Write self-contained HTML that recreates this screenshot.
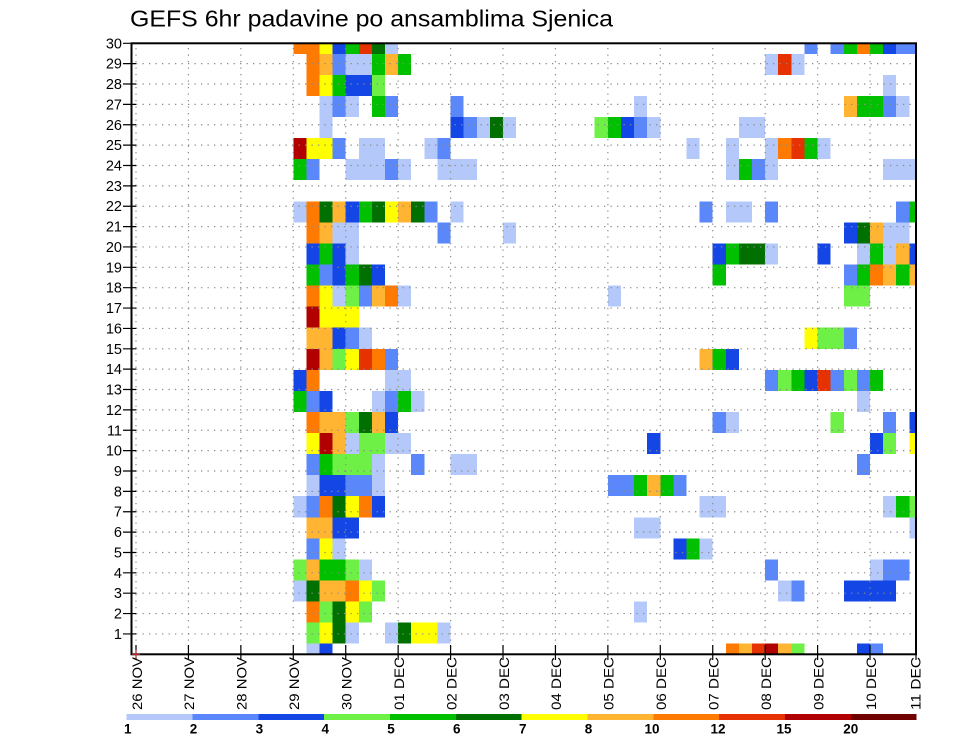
<!DOCTYPE html>
<html><head><meta charset="utf-8"><style>
html,body{margin:0;padding:0;background:#fff}
svg{display:block}
.a{fill:#b4c8fa}.b{fill:#5a87fa}.c{fill:#1446e6}.d{fill:#6ef046}.e{fill:#00c000}.f{fill:#007000}
.g{fill:#ffff00}.h{fill:#ffb432}.i{fill:#ff7a00}.j{fill:#e63200}.k{fill:#b00000}.l{fill:#700000}
text{font-family:"Liberation Sans",sans-serif;fill:#000}
</style></head><body>
<svg width="960" height="742" viewBox="0 0 960 742" xmlns="http://www.w3.org/2000/svg">
<rect x="0" y="0" width="960" height="742" fill="#fff"/>
<text x="130" y="26.7" font-size="23" textLength="483" lengthAdjust="spacingAndGlyphs">GEFS 6hr padavine po ansamblima Sjenica</text>
<defs><clipPath id="cp"><rect x="131" y="43.3" width="785" height="611"/></clipPath></defs>
<g clip-path="url(#cp)">
<g transform="translate(136,53.8) scale(13.107,21.069)" shape-rendering="crispEdges">
<!-- T0 -->
<rect x="12" y="-1" width="2" height="1" class="i"/><rect x="14" y="-1" width="1" height="1" class="g"/><rect x="15" y="-1" width="1" height="1" class="c"/><rect x="16" y="-1" width="1" height="1" class="e"/><rect x="17" y="-1" width="1" height="1" class="j"/><rect x="18" y="-1" width="1" height="1" class="f"/><rect x="19" y="-1" width="1" height="1" class="a"/><rect x="51" y="-1" width="1" height="1" class="b"/><rect x="53" y="-1" width="1" height="1" class="b"/><rect x="54" y="-1" width="1" height="1" class="e"/><rect x="55" y="-1" width="1" height="1" class="i"/><rect x="56" y="-1" width="1" height="1" class="e"/><rect x="57" y="-1" width="1" height="1" class="c"/><rect x="58" y="-1" width="2" height="1" class="b"/>
<!-- T1 -->
<rect x="13" y="0" width="1" height="1" class="i"/><rect x="14" y="0" width="1" height="1" class="h"/><rect x="15" y="0" width="1" height="1" class="b"/><rect x="16" y="0" width="2" height="1" class="a"/><rect x="18" y="0" width="1" height="1" class="e"/><rect x="19" y="0" width="1" height="1" class="h"/><rect x="20" y="0" width="1" height="1" class="e"/><rect x="48" y="0" width="1" height="1" class="a"/><rect x="49" y="0" width="1" height="1" class="j"/><rect x="50" y="0" width="1" height="1" class="a"/>
<!-- T2 -->
<rect x="13" y="1" width="1" height="1" class="i"/><rect x="14" y="1" width="1" height="1" class="g"/><rect x="15" y="1" width="1" height="1" class="e"/><rect x="16" y="1" width="2" height="1" class="c"/><rect x="18" y="1" width="1" height="1" class="d"/><rect x="57" y="1" width="1" height="1" class="a"/>
<!-- T3 -->
<rect x="14" y="2" width="1" height="1" class="a"/><rect x="15" y="2" width="1" height="1" class="b"/><rect x="16" y="2" width="1" height="1" class="a"/><rect x="18" y="2" width="1" height="1" class="e"/><rect x="19" y="2" width="1" height="1" class="b"/><rect x="24" y="2" width="1" height="1" class="b"/><rect x="38" y="2" width="1" height="1" class="a"/><rect x="54" y="2" width="1" height="1" class="h"/><rect x="55" y="2" width="2" height="1" class="e"/><rect x="57" y="2" width="1" height="1" class="b"/><rect x="58" y="2" width="1" height="1" class="a"/>
<!-- T4 -->
<rect x="14" y="3" width="1" height="1" class="a"/><rect x="24" y="3" width="1" height="1" class="c"/><rect x="25" y="3" width="1" height="1" class="b"/><rect x="26" y="3" width="1" height="1" class="a"/><rect x="27" y="3" width="1" height="1" class="f"/><rect x="28" y="3" width="1" height="1" class="a"/><rect x="35" y="3" width="1" height="1" class="d"/><rect x="36" y="3" width="1" height="1" class="e"/><rect x="37" y="3" width="1" height="1" class="c"/><rect x="38" y="3" width="1" height="1" class="b"/><rect x="39" y="3" width="1" height="1" class="a"/><rect x="46" y="3" width="2" height="1" class="a"/>
<!-- T5 -->
<rect x="12" y="4" width="1" height="1" class="k"/><rect x="13" y="4" width="2" height="1" class="g"/><rect x="15" y="4" width="1" height="1" class="b"/><rect x="17" y="4" width="2" height="1" class="a"/><rect x="22" y="4" width="1" height="1" class="a"/><rect x="23" y="4" width="1" height="1" class="b"/><rect x="42" y="4" width="1" height="1" class="a"/><rect x="45" y="4" width="1" height="1" class="a"/><rect x="48" y="4" width="1" height="1" class="a"/><rect x="49" y="4" width="1" height="1" class="i"/><rect x="50" y="4" width="1" height="1" class="j"/><rect x="51" y="4" width="1" height="1" class="e"/><rect x="52" y="4" width="1" height="1" class="a"/>
<!-- T6 -->
<rect x="12" y="5" width="1" height="1" class="e"/><rect x="13" y="5" width="1" height="1" class="b"/><rect x="16" y="5" width="3" height="1" class="a"/><rect x="19" y="5" width="1" height="1" class="b"/><rect x="20" y="5" width="1" height="1" class="a"/><rect x="23" y="5" width="3" height="1" class="a"/><rect x="45" y="5" width="1" height="1" class="a"/><rect x="46" y="5" width="1" height="1" class="e"/><rect x="47" y="5" width="1" height="1" class="b"/><rect x="48" y="5" width="1" height="1" class="a"/><rect x="57" y="5" width="3" height="1" class="a"/>
<!-- T8 -->
<rect x="12" y="7" width="1" height="1" class="a"/><rect x="13" y="7" width="1" height="1" class="i"/><rect x="14" y="7" width="1" height="1" class="f"/><rect x="15" y="7" width="1" height="1" class="h"/><rect x="16" y="7" width="1" height="1" class="c"/><rect x="17" y="7" width="1" height="1" class="e"/><rect x="18" y="7" width="1" height="1" class="f"/><rect x="19" y="7" width="1" height="1" class="g"/><rect x="20" y="7" width="1" height="1" class="h"/><rect x="21" y="7" width="1" height="1" class="f"/><rect x="22" y="7" width="1" height="1" class="b"/><rect x="24" y="7" width="1" height="1" class="a"/><rect x="43" y="7" width="1" height="1" class="b"/><rect x="45" y="7" width="2" height="1" class="a"/><rect x="48" y="7" width="1" height="1" class="b"/><rect x="58" y="7" width="1" height="1" class="b"/><rect x="59" y="7" width="1" height="1" class="e"/>
<!-- T9 -->
<rect x="13" y="8" width="1" height="1" class="i"/><rect x="14" y="8" width="1" height="1" class="h"/><rect x="15" y="8" width="2" height="1" class="a"/><rect x="23" y="8" width="1" height="1" class="b"/><rect x="28" y="8" width="1" height="1" class="a"/><rect x="54" y="8" width="1" height="1" class="c"/><rect x="55" y="8" width="1" height="1" class="f"/><rect x="56" y="8" width="1" height="1" class="h"/><rect x="57" y="8" width="2" height="1" class="a"/>
<!-- T10 -->
<rect x="13" y="9" width="1" height="1" class="c"/><rect x="14" y="9" width="1" height="1" class="e"/><rect x="15" y="9" width="1" height="1" class="c"/><rect x="16" y="9" width="1" height="1" class="a"/><rect x="44" y="9" width="1" height="1" class="c"/><rect x="45" y="9" width="1" height="1" class="e"/><rect x="46" y="9" width="2" height="1" class="f"/><rect x="48" y="9" width="1" height="1" class="a"/><rect x="52" y="9" width="1" height="1" class="c"/><rect x="55" y="9" width="1" height="1" class="a"/><rect x="56" y="9" width="1" height="1" class="e"/><rect x="57" y="9" width="1" height="1" class="a"/><rect x="58" y="9" width="1" height="1" class="h"/><rect x="59" y="9" width="1" height="1" class="c"/>
<!-- T11 -->
<rect x="13" y="10" width="1" height="1" class="e"/><rect x="14" y="10" width="1" height="1" class="b"/><rect x="15" y="10" width="1" height="1" class="c"/><rect x="16" y="10" width="1" height="1" class="e"/><rect x="17" y="10" width="1" height="1" class="f"/><rect x="18" y="10" width="1" height="1" class="c"/><rect x="44" y="10" width="1" height="1" class="e"/><rect x="54" y="10" width="1" height="1" class="b"/><rect x="55" y="10" width="1" height="1" class="e"/><rect x="56" y="10" width="1" height="1" class="i"/><rect x="57" y="10" width="1" height="1" class="h"/><rect x="58" y="10" width="1" height="1" class="e"/><rect x="59" y="10" width="1" height="1" class="h"/>
<!-- T12 -->
<rect x="13" y="11" width="1" height="1" class="i"/><rect x="14" y="11" width="1" height="1" class="g"/><rect x="15" y="11" width="1" height="1" class="a"/><rect x="16" y="11" width="1" height="1" class="d"/><rect x="17" y="11" width="1" height="1" class="b"/><rect x="18" y="11" width="1" height="1" class="h"/><rect x="19" y="11" width="1" height="1" class="i"/><rect x="20" y="11" width="1" height="1" class="a"/><rect x="36" y="11" width="1" height="1" class="a"/><rect x="54" y="11" width="2" height="1" class="d"/>
<!-- T13 -->
<rect x="13" y="12" width="1" height="1" class="k"/><rect x="14" y="12" width="3" height="1" class="g"/>
<!-- T14 -->
<rect x="13" y="13" width="2" height="1" class="h"/><rect x="15" y="13" width="1" height="1" class="c"/><rect x="16" y="13" width="1" height="1" class="b"/><rect x="17" y="13" width="1" height="1" class="a"/><rect x="51" y="13" width="1" height="1" class="g"/><rect x="52" y="13" width="2" height="1" class="d"/><rect x="54" y="13" width="1" height="1" class="b"/>
<!-- T15 -->
<rect x="13" y="14" width="1" height="1" class="k"/><rect x="14" y="14" width="1" height="1" class="h"/><rect x="15" y="14" width="1" height="1" class="d"/><rect x="16" y="14" width="1" height="1" class="g"/><rect x="17" y="14" width="1" height="1" class="j"/><rect x="18" y="14" width="1" height="1" class="i"/><rect x="19" y="14" width="1" height="1" class="b"/><rect x="43" y="14" width="1" height="1" class="h"/><rect x="44" y="14" width="1" height="1" class="e"/><rect x="45" y="14" width="1" height="1" class="c"/>
<!-- T16 -->
<rect x="12" y="15" width="1" height="1" class="c"/><rect x="13" y="15" width="1" height="1" class="i"/><rect x="19" y="15" width="2" height="1" class="a"/><rect x="48" y="15" width="1" height="1" class="b"/><rect x="49" y="15" width="1" height="1" class="d"/><rect x="50" y="15" width="1" height="1" class="e"/><rect x="51" y="15" width="1" height="1" class="c"/><rect x="52" y="15" width="1" height="1" class="j"/><rect x="53" y="15" width="1" height="1" class="b"/><rect x="54" y="15" width="1" height="1" class="d"/><rect x="55" y="15" width="1" height="1" class="b"/><rect x="56" y="15" width="1" height="1" class="e"/>
<!-- T17 -->
<rect x="12" y="16" width="1" height="1" class="e"/><rect x="13" y="16" width="1" height="1" class="b"/><rect x="14" y="16" width="1" height="1" class="c"/><rect x="18" y="16" width="1" height="1" class="a"/><rect x="19" y="16" width="1" height="1" class="b"/><rect x="20" y="16" width="1" height="1" class="e"/><rect x="21" y="16" width="1" height="1" class="a"/><rect x="55" y="16" width="1" height="1" class="a"/>
<!-- T18 -->
<rect x="13" y="17" width="1" height="1" class="i"/><rect x="14" y="17" width="2" height="1" class="h"/><rect x="16" y="17" width="1" height="1" class="d"/><rect x="17" y="17" width="1" height="1" class="f"/><rect x="18" y="17" width="1" height="1" class="h"/><rect x="19" y="17" width="1" height="1" class="c"/><rect x="44" y="17" width="1" height="1" class="b"/><rect x="45" y="17" width="1" height="1" class="a"/><rect x="53" y="17" width="1" height="1" class="d"/><rect x="57" y="17" width="1" height="1" class="b"/><rect x="59" y="17" width="1" height="1" class="c"/>
<!-- T19 -->
<rect x="13" y="18" width="1" height="1" class="g"/><rect x="14" y="18" width="1" height="1" class="k"/><rect x="15" y="18" width="1" height="1" class="h"/><rect x="16" y="18" width="1" height="1" class="a"/><rect x="17" y="18" width="2" height="1" class="d"/><rect x="19" y="18" width="2" height="1" class="a"/><rect x="39" y="18" width="1" height="1" class="c"/><rect x="56" y="18" width="1" height="1" class="c"/><rect x="57" y="18" width="1" height="1" class="d"/><rect x="59" y="18" width="1" height="1" class="g"/>
<!-- T20 -->
<rect x="13" y="19" width="1" height="1" class="b"/><rect x="14" y="19" width="1" height="1" class="e"/><rect x="15" y="19" width="3" height="1" class="d"/><rect x="18" y="19" width="1" height="1" class="a"/><rect x="21" y="19" width="1" height="1" class="b"/><rect x="24" y="19" width="2" height="1" class="a"/><rect x="55" y="19" width="1" height="1" class="b"/>
<!-- T21 -->
<rect x="13" y="20" width="1" height="1" class="a"/><rect x="14" y="20" width="2" height="1" class="c"/><rect x="16" y="20" width="2" height="1" class="b"/><rect x="18" y="20" width="1" height="1" class="a"/><rect x="36" y="20" width="2" height="1" class="b"/><rect x="38" y="20" width="1" height="1" class="e"/><rect x="39" y="20" width="1" height="1" class="h"/><rect x="40" y="20" width="1" height="1" class="e"/><rect x="41" y="20" width="1" height="1" class="b"/>
<!-- T22 -->
<rect x="12" y="21" width="1" height="1" class="a"/><rect x="13" y="21" width="1" height="1" class="b"/><rect x="14" y="21" width="1" height="1" class="i"/><rect x="15" y="21" width="1" height="1" class="f"/><rect x="16" y="21" width="1" height="1" class="g"/><rect x="17" y="21" width="1" height="1" class="i"/><rect x="18" y="21" width="1" height="1" class="c"/><rect x="43" y="21" width="2" height="1" class="a"/><rect x="57" y="21" width="1" height="1" class="a"/><rect x="58" y="21" width="1" height="1" class="e"/><rect x="59" y="21" width="1" height="1" class="d"/>
<!-- T23 -->
<rect x="13" y="22" width="2" height="1" class="h"/><rect x="15" y="22" width="2" height="1" class="c"/><rect x="38" y="22" width="2" height="1" class="a"/><rect x="59" y="22" width="1" height="1" class="a"/>
<!-- T24 -->
<rect x="13" y="23" width="1" height="1" class="b"/><rect x="14" y="23" width="1" height="1" class="g"/><rect x="15" y="23" width="1" height="1" class="a"/><rect x="41" y="23" width="1" height="1" class="c"/><rect x="42" y="23" width="1" height="1" class="e"/><rect x="43" y="23" width="1" height="1" class="a"/>
<!-- T25 -->
<rect x="12" y="24" width="1" height="1" class="d"/><rect x="13" y="24" width="1" height="1" class="h"/><rect x="14" y="24" width="2" height="1" class="e"/><rect x="16" y="24" width="1" height="1" class="d"/><rect x="17" y="24" width="1" height="1" class="a"/><rect x="48" y="24" width="1" height="1" class="b"/><rect x="56" y="24" width="1" height="1" class="a"/><rect x="57" y="24" width="2" height="1" class="b"/>
<!-- T26 -->
<rect x="12" y="25" width="1" height="1" class="a"/><rect x="13" y="25" width="1" height="1" class="f"/><rect x="14" y="25" width="2" height="1" class="h"/><rect x="16" y="25" width="1" height="1" class="i"/><rect x="17" y="25" width="1" height="1" class="g"/><rect x="18" y="25" width="1" height="1" class="d"/><rect x="49" y="25" width="1" height="1" class="a"/><rect x="50" y="25" width="1" height="1" class="b"/><rect x="54" y="25" width="4" height="1" class="c"/>
<!-- T27 -->
<rect x="13" y="26" width="1" height="1" class="i"/><rect x="14" y="26" width="1" height="1" class="d"/><rect x="15" y="26" width="1" height="1" class="f"/><rect x="16" y="26" width="1" height="1" class="g"/><rect x="17" y="26" width="1" height="1" class="d"/><rect x="38" y="26" width="1" height="1" class="a"/>
<!-- T28 -->
<rect x="13" y="27" width="1" height="1" class="d"/><rect x="14" y="27" width="1" height="1" class="g"/><rect x="15" y="27" width="1" height="1" class="f"/><rect x="16" y="27" width="1" height="1" class="a"/><rect x="19" y="27" width="1" height="1" class="a"/><rect x="20" y="27" width="1" height="1" class="f"/><rect x="21" y="27" width="2" height="1" class="g"/><rect x="23" y="27" width="1" height="1" class="a"/>
<!-- T29 -->
<rect x="13" y="28" width="1" height="1" class="a"/><rect x="14" y="28" width="1" height="1" class="c"/><rect x="45" y="28" width="1" height="1" class="i"/><rect x="46" y="28" width="1" height="1" class="h"/><rect x="47" y="28" width="1" height="1" class="j"/><rect x="48" y="28" width="1" height="1" class="k"/><rect x="49" y="28" width="1" height="1" class="h"/><rect x="50" y="28" width="1" height="1" class="d"/><rect x="55" y="28" width="1" height="1" class="c"/><rect x="56" y="28" width="1" height="1" class="b"/>
</g>
<!-- dotted grid -->
<path fill="none" stroke="#8a8a8a" stroke-width="1.2" stroke-dasharray="1.3 5.2" d="M136 633.93H916M136 613.57H916M136 593.2H916M136 572.83H916M136 552.47H916M136 532.1H916M136 511.73H916M136 491.36H916M136 471H916M136 450.63H916M136 430.26H916M136 409.9H916M136 389.53H916M136 369.16H916M136 348.8H916M136 328.43H916M136 308.06H916M136 287.7H916M136 267.33H916M136 246.96H916M136 226.59H916M136 206.23H916M136 185.86H916M136 165.49H916M136 145.13H916M136 124.76H916M136 104.39H916M136 84.03H916M136 63.66H916"/>
<path fill="none" stroke="#8a8a8a" stroke-width="1.2" stroke-dasharray="1.3 5.2" d="M136 48V654M188.43 48V654M240.86 48V654M293.29 48V654M345.72 48V654M398.15 48V654M450.58 48V654M503.01 48V654M555.44 48V654M607.87 48V654M660.3 48V654M712.73 48V654M765.16 48V654M817.59 48V654M870.02 48V654"/>
</g>
<!-- frame -->
<rect x="131.5" y="43.3" width="784.5" height="611" fill="none" stroke="#000" stroke-width="2"/>
<!-- y ticks -->
<path fill="none" stroke="#000" stroke-width="1.2" d="M123 633.93H136M123 613.57H136M123 593.2H136M123 572.83H136M123 552.47H136M123 532.1H136M123 511.73H136M123 491.36H136M123 471H136M123 450.63H136M123 430.26H136M123 409.9H136M123 389.53H136M123 369.16H136M123 348.8H136M123 328.43H136M123 308.06H136M123 287.7H136M123 267.33H136M123 246.96H136M123 226.59H136M123 206.23H136M123 185.86H136M123 165.49H136M123 145.13H136M123 124.76H136M123 104.39H136M123 84.03H136M123 63.66H136M123 43.29H136"/>
<!-- x ticks -->
<path fill="none" stroke="#000" stroke-width="1.2" d="M136 645V660M188.43 645V660M240.86 645V660M293.29 645V660M345.72 645V660M398.15 645V660M450.58 645V660M503.01 645V660M555.44 645V660M607.87 645V660M660.3 645V660M712.73 645V660M765.16 645V660M817.59 645V660M870.02 645V660M916 654V660"/>
<path fill="none" stroke="#e03030" stroke-width="1" d="M132 654.3H140M136 650.3V658.3"/>
<!-- y labels -->
<g font-size="14.5" text-anchor="end">
<text x="122" y="638.9">1</text><text x="122" y="618.6">2</text><text x="122" y="598.2">3</text><text x="122" y="577.8">4</text><text x="122" y="557.5">5</text><text x="122" y="537.1">6</text><text x="122" y="516.7">7</text><text x="122" y="496.4">8</text><text x="122" y="476">9</text><text x="122" y="455.6">10</text><text x="122" y="435.3">11</text><text x="122" y="414.9">12</text><text x="122" y="394.5">13</text><text x="122" y="374.2">14</text><text x="122" y="353.8">15</text><text x="122" y="333.4">16</text><text x="122" y="313.1">17</text><text x="122" y="292.7">18</text><text x="122" y="272.3">19</text><text x="122" y="252">20</text><text x="122" y="231.6">21</text><text x="122" y="211.2">22</text><text x="122" y="190.9">23</text><text x="122" y="170.5">24</text><text x="122" y="150.1">25</text><text x="122" y="129.8">26</text><text x="122" y="109.4">27</text><text x="122" y="89">28</text><text x="122" y="68.7">29</text><text x="122" y="48.3">30</text>
</g>
<!-- x labels -->
<g font-size="14">
<text transform="translate(141.8,710) rotate(-90)" textLength="53" lengthAdjust="spacingAndGlyphs">26 NOV</text>
<text transform="translate(194.2,710) rotate(-90)" textLength="53" lengthAdjust="spacingAndGlyphs">27 NOV</text>
<text transform="translate(246.7,710) rotate(-90)" textLength="53" lengthAdjust="spacingAndGlyphs">28 NOV</text>
<text transform="translate(299.1,710) rotate(-90)" textLength="53" lengthAdjust="spacingAndGlyphs">29 NOV</text>
<text transform="translate(351.5,710) rotate(-90)" textLength="53" lengthAdjust="spacingAndGlyphs">30 NOV</text>
<text transform="translate(404,710) rotate(-90)" textLength="53" lengthAdjust="spacingAndGlyphs">01 DEC</text>
<text transform="translate(456.4,710) rotate(-90)" textLength="53" lengthAdjust="spacingAndGlyphs">02 DEC</text>
<text transform="translate(508.8,710) rotate(-90)" textLength="53" lengthAdjust="spacingAndGlyphs">03 DEC</text>
<text transform="translate(561.2,710) rotate(-90)" textLength="53" lengthAdjust="spacingAndGlyphs">04 DEC</text>
<text transform="translate(613.7,710) rotate(-90)" textLength="53" lengthAdjust="spacingAndGlyphs">05 DEC</text>
<text transform="translate(666.1,710) rotate(-90)" textLength="53" lengthAdjust="spacingAndGlyphs">06 DEC</text>
<text transform="translate(718.5,710) rotate(-90)" textLength="53" lengthAdjust="spacingAndGlyphs">07 DEC</text>
<text transform="translate(771,710) rotate(-90)" textLength="53" lengthAdjust="spacingAndGlyphs">08 DEC</text>
<text transform="translate(823.4,710) rotate(-90)" textLength="53" lengthAdjust="spacingAndGlyphs">09 DEC</text>
<text transform="translate(875.8,710) rotate(-90)" textLength="53" lengthAdjust="spacingAndGlyphs">10 DEC</text>
<text transform="translate(920.5,710) rotate(-90)" textLength="53" lengthAdjust="spacingAndGlyphs">11 DEC</text>
</g>
<!-- legend -->
<g shape-rendering="crispEdges">
<rect x="126.7" y="714" width="65.9" height="6" class="a"/>
<rect x="192.53" y="714" width="65.9" height="6" class="b"/>
<rect x="258.36" y="714" width="65.9" height="6" class="c"/>
<rect x="324.19" y="714" width="65.9" height="6" class="d"/>
<rect x="390.02" y="714" width="65.9" height="6" class="e"/>
<rect x="455.85" y="714" width="65.9" height="6" class="f"/>
<rect x="521.68" y="714" width="65.9" height="6" class="g"/>
<rect x="587.51" y="714" width="65.9" height="6" class="h"/>
<rect x="653.34" y="714" width="65.9" height="6" class="i"/>
<rect x="719.17" y="714" width="65.9" height="6" class="j"/>
<rect x="785" y="714" width="65.9" height="6" class="k"/>
<rect x="850.83" y="714" width="65.9" height="6" class="l"/>
</g>
<g font-size="13.5" font-weight="bold" text-anchor="middle">
<text x="127.7" y="733.3">1</text><text x="193.5" y="733.3">2</text><text x="259.4" y="733.3">3</text><text x="325.2" y="733.3">4</text><text x="391" y="733.3">5</text><text x="456.8" y="733.3">6</text><text x="522.7" y="733.3">7</text><text x="588.5" y="733.3">8</text><text x="652" y="733.3">10</text><text x="718" y="733.3">12</text><text x="784" y="733.3">15</text><text x="850.8" y="733.3">20</text>
</g>
</svg>
</body></html>
